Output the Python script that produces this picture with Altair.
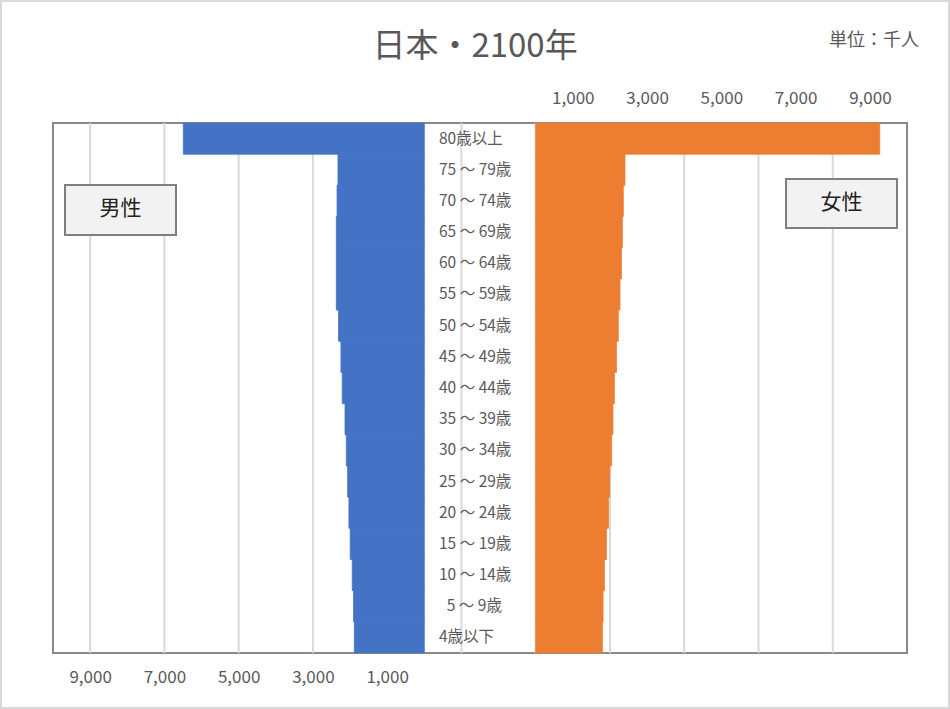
import altair as alt
import pandas as pd

AGES = ["80歳以上", "75 ～ 79歳", "70 ～ 74歳", "65 ～ 69歳", "60 ～ 64歳", "55 ～ 59歳",
        "50 ～ 54歳", "45 ～ 49歳", "40 ～ 44歳", "35 ～ 39歳", "30 ～ 34歳", "25 ～ 29歳",
        "20 ～ 24歳", "15 ～ 19歳", "10 ～ 14歳", "\u200b\u20025 ～ 9歳", "4歳以下"]
MALE = [6490, 2325, 2350, 2370, 2370, 2370, 2310, 2245, 2210, 2135, 2100, 2065,
        2030, 1995, 1940, 1905, 1885]
FEMALE = [9265, 2405, 2360, 2335, 2310, 2270, 2225, 2175, 2120, 2080, 2045, 1995,
          1960, 1905, 1850, 1815, 1795]
GAP = 3000  # space between the two halves, in axis units
MALE_TICKS = [-9000, -7000, -5000, -3000, -1000]
FEMALE_TICKS = [4000, 6000, 8000, 10000, 12000]
GRID = [-9000, -7000, -5000, -3000, -1000, 1000, 3000, 5000, 7000, 9000, 11000]

FONT = "Noto Sans CJK JP"
GRAY = "#595959"
BLUE = "#4472C4"
ORANGE = "#ED7D31"

df = pd.DataFrame({"age": AGES, "male": MALE, "female": FEMALE})
df["male_neg"] = -df["male"]
df["zero"] = 0
df["fstart"] = GAP
df["fend"] = GAP + df["female"]
grid_df = pd.DataFrame({"g": GRID})

xscale = alt.Scale(domain=[-10000, 10000 + GAP], nice=False, zero=False)
yenc = alt.Y("age:N", sort=AGES, axis=None,
             scale=alt.Scale(paddingInner=0, paddingOuter=0))

grid = alt.Chart(grid_df).mark_rule(color="#d9d9d9", strokeWidth=2).encode(
    x=alt.X("g:Q", scale=xscale, axis=None)
)

male = alt.Chart(df).mark_bar(color=BLUE, stroke=BLUE, strokeWidth=0.8).encode(
    x=alt.X("male_neg:Q", scale=xscale, title=None,
            axis=alt.Axis(orient="bottom", values=MALE_TICKS, grid=False, ticks=False,
                          domain=False, labelExpr="format(abs(datum.value), ',')",
                          labelFont=FONT, labelFontSize=17, labelColor=GRAY,
                          labelPadding=16)),
    x2="zero:Q",
    y=yenc,
)

female = alt.Chart(df).mark_bar(color=ORANGE, stroke=ORANGE, strokeWidth=0.8).encode(
    x=alt.X("fstart:Q", scale=xscale, title=None,
            axis=alt.Axis(orient="top", values=FEMALE_TICKS, grid=False, ticks=False,
                          domain=False, labelExpr=f"format(datum.value - {GAP}, ',')",
                          labelFont=FONT, labelFontSize=17, labelColor=GRAY,
                          labelPadding=16)),
    x2="fend:Q",
    y=yenc,
)

labels = alt.Chart(df).mark_text(align="left", baseline="middle", font=FONT,
                                 fontSize=15.5, color=GRAY).encode(
    x=alt.value(386),
    y=yenc,
    text="age:N",
)

male_box = alt.Chart(pd.DataFrame({"t": ["男性"]})).mark_rect(
    fill="#f2f2f2", stroke="#7f7f7f", strokeWidth=2
).encode(x=alt.value(12), x2=alt.value(123), y=alt.value(62), y2=alt.value(112))
male_txt = alt.Chart(pd.DataFrame({"t": ["男性"]})).mark_text(
    font=FONT, fontSize=21, color="#222222", baseline="middle"
).encode(x=alt.value(67.5), y=alt.value(86), text="t:N")
female_box = alt.Chart(pd.DataFrame({"t": ["女性"]})).mark_rect(
    fill="#f2f2f2", stroke="#7f7f7f", strokeWidth=2
).encode(x=alt.value(733), x2=alt.value(844), y=alt.value(56), y2=alt.value(105))
female_txt = alt.Chart(pd.DataFrame({"t": ["女性"]})).mark_text(
    font=FONT, fontSize=21, color="#222222", baseline="middle"
).encode(x=alt.value(788.5), y=alt.value(80), text="t:N")

title = alt.Chart(pd.DataFrame({"t": ["日本・2100年"]})).mark_text(
    font=FONT, fontSize=33, color=GRAY, baseline="middle"
).encode(x=alt.value(422), y=alt.value(-76), text="t:N")
unit = alt.Chart(pd.DataFrame({"t": ["単位：千人"]})).mark_text(
    font=FONT, fontSize=18, color=GRAY, baseline="middle", align="right"
).encode(x=alt.value(866), y=alt.value(-82), text="t:N")

border = alt.Chart(pd.DataFrame({"t": [""]})).mark_rect(
    fill=None, stroke="#d9d9d9", strokeWidth=2
).encode(x=alt.value(-52), x2=alt.value(896), y=alt.value(-122), y2=alt.value(585))

chart = alt.layer(
    grid, male, female, labels, male_box, male_txt, female_box, female_txt,
    title, unit, border
).resolve_axis(x="independent").properties(
    width=854, height=530,
    autosize=alt.AutoSizeParams(type="none"),
    padding={"left": 53, "top": 123, "right": 43, "bottom": 56},
    background="white",
).configure_view(stroke="#898989", strokeWidth=2)

chart.save("out.html", embed_options={"renderer": "svg", "actions": False})
